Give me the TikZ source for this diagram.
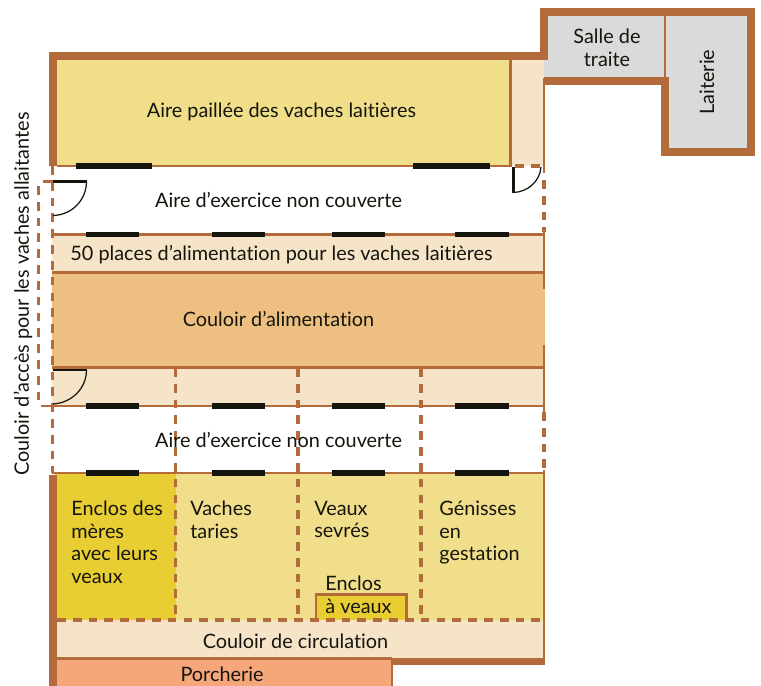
\documentclass[tikz,border=0pt]{standalone}
\usepackage{fontspec}
\setsansfont[Ligatures={NoCommon}]{Lato}
\definecolor{wallbrown}{HTML}{B46B3C}
\definecolor{strawyellow}{HTML}{F0DE8A}
\definecolor{deepyellow}{HTML}{E8CE33}
\definecolor{palebeige}{HTML}{F6E4C8}
\definecolor{feedorange}{HTML}{EDC082}
\definecolor{pigsalmon}{HTML}{F6A77A}
\definecolor{milkgrey}{HTML}{D9DADA}
\definecolor{barblack}{HTML}{15150D}
\tikzset{
	wall/.style={draw=wallbrown,line width=4.4pt,miter limit=10},
	thinwall/.style={draw=wallbrown,line width=1.4pt},
	openwall/.style={draw=wallbrown,line width=1.8pt,dash pattern=on 5pt off 4pt},
	bar/.style={draw=barblack,line width=3pt},
	door/.style={draw=barblack,line width=0.7pt},
	leaf/.style={draw=barblack,line width=1.2pt},
	label/.style={font=\sffamily\fontsize{11.3}{12.9}\selectfont,text=barblack,inner sep=0pt},
	block/.style={label,align=left,anchor=north west}
}
\begin{document}
\begin{tikzpicture}[x=0.02cm,y=-0.02cm]
	\useasboundingbox (0,0) rectangle (761,686);
	\fill[strawyellow] (55,58) rectangle (510,166);
	\fill[palebeige] (510,58) rectangle (544,166);
	\fill[milkgrey] (544,14) rectangle (665,78);
	\fill[milkgrey] (665,14) rectangle (749,150);
	\fill[palebeige] (52,235) rectangle (544,272);
	\fill[feedorange] (52,272) rectangle (545,368);
	\fill[palebeige] (52,368) rectangle (544,406);
	\fill[strawyellow] (176,473) rectangle (544,620);
	\fill[deepyellow] (55,473) rectangle (176,620);
	\fill[deepyellow] (315,594) rectangle (407,620);
	\fill[palebeige] (55,620) rectangle (544,658);
	\fill[pigsalmon] (55,658) rectangle (392,686);
	\draw[wall] (53,166) -- (53,55.7) -- (544,55.7) -- (544,12.2) -- (751,12.2) -- (751,151.7) -- (665,151.7) -- (665,81) -- (544,81);
	\draw[wall] (53,475) -- (53,686);
	\draw[wall] (391,661.5) -- (545,661.5);
	\draw[thinwall] (57,166) -- (512,166);
	\draw[thinwall] (510.5,59) -- (510.5,166);
	\draw[thinwall] (664.8,16) -- (664.8,77);
	\draw[thinwall] (544,78) -- (544,173);
	\draw[thinwall] (544,232) -- (544,289);
	\draw[thinwall] (544,345) -- (544,412);
	\draw[thinwall] (544,470) -- (544,659);
	\draw[thinwall] (52,234.5) -- (545,234.5);
	\draw[thinwall] (52,272.5) -- (545,272.5);
	\draw[thinwall] (52,367.5) -- (545,367.5);
	\draw[thinwall] (41,406) -- (545,406);
	\draw[thinwall] (52,473) -- (545,473);
	\draw[thinwall] (57,658.5) -- (392,658.5);
	\draw[thinwall] (392,658) -- (392,686);
	\draw[thinwall] (43,181.5) -- (53,181.5);
	\draw[wallbrown,line width=1.5pt] (316,620) -- (316,594.5) -- (406.5,594.5) -- (406.5,620);
	\draw[openwall] (52.5,166) -- (52.5,473);
	\draw[openwall] (38.5,186) -- (38.5,403);
	\draw[openwall] (544,180) -- (544,232);
	\draw[openwall] (544,412) -- (544,470);
	\draw[openwall] (515,166) -- (543,166);
	\draw[openwall] (175.5,368) -- (175.5,620);
	\draw[openwall] (298,368) -- (298,620);
	\draw[openwall] (421,368) -- (421,620);
	\draw[openwall] (57,620) -- (544,620);
	\draw[bar] (76,166) -- (152,166);
	\draw[bar] (413,166) -- (490,166);
	\draw[bar] (86,234.5) -- (139,234.5);
	\draw[bar] (212,234.5) -- (265,234.5);
	\draw[bar] (332,234.5) -- (385,234.5);
	\draw[bar] (455,234.5) -- (509,234.5);
	\draw[bar] (86,406) -- (139,406);
	\draw[bar] (212,406) -- (265,406);
	\draw[bar] (332,406) -- (385,406);
	\draw[bar] (455,406) -- (509,406);
	\draw[bar] (86,473) -- (139,473);
	\draw[bar] (212,473) -- (265,473);
	\draw[bar] (332,473) -- (385,473);
	\draw[bar] (455,473) -- (509,473);
	\draw[leaf] (53,181.5) -- (87,181.5);
	\draw[door] (86.5,181.5) .. controls (86.5,200) and (72,215) .. (53,215.5);
	\draw[leaf] (53,370) -- (87,370);
	\draw[door] (86.5,370) .. controls (86.5,388) and (72,403) .. (53,404);
	\draw[leaf] (513.5,167) -- (513.5,192.5);
	\draw[door] (513.5,192.5) .. controls (528,192) and (540,181) .. (541,167);
	\draw (281.5,111.5) node (straw) [label] {Aire paillée des vaches laitières};
	\draw (278.5,200) node (yardtop) [label] {Aire d’exercice non couverte};
	\draw (281.5,255) node (places) [label] {50 places d’alimentation pour les vaches laitières};
	\draw (278.5,318.5) node (feed) [label] {Couloir d’alimentation};
	\draw (278.5,440) node (yardlow) [label] {Aire d’exercice non couverte};
	\draw (71,500.5) node (mothers) [block] {Enclos des\\mères\\avec leurs\\veaux};
	\draw (190,500.5) node (dry) [block] {Vaches\\taries};
	\draw (314,500.5) node (weaned) [block] {Veaux\\sevrés};
	\draw (439,500.5) node (heifers) [block] {Génisses\\en\\gestation};
	\draw (325,576) node (calves) [block] {Enclos\\à veaux};
	\draw (295.5,641) node (passage) [label] {Couloir de circulation};
	\draw (222,674) node (pigs) [label] {Porcherie};
	\draw (607,48) node (parlour) [label,align=center] {Salle de\\traite};
	\draw (707,82) node (dairy) [label,rotate=90] {Laiterie};
	\draw (23,294) node (access) [label,rotate=90] {Couloir d’accès pour les vaches allaitantes};
\end{tikzpicture}
\end{document}
